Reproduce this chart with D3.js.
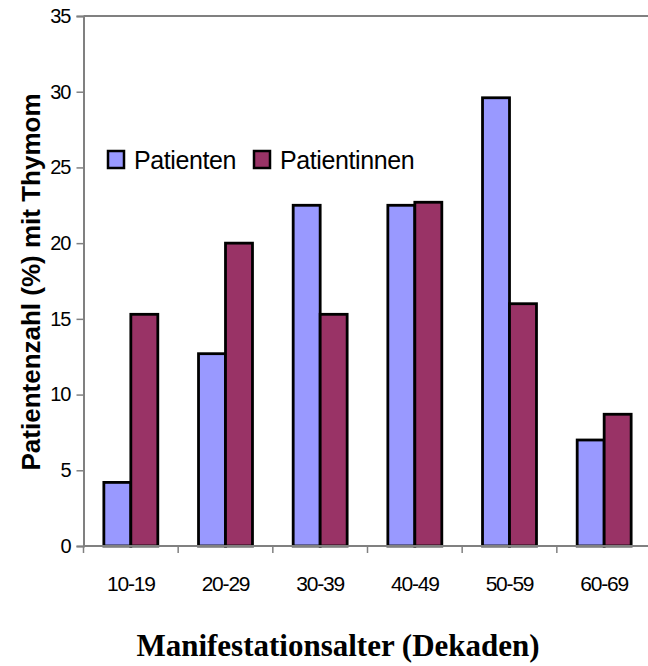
<!DOCTYPE html>
<html>
<head>
<meta charset="utf-8">
<script src="https://cdn.jsdelivr.net/npm/d3@7"></script>
<style>
  html, body { margin: 0; padding: 0; background: #fff; }
  svg { display: block; }
</style>
</head>
<body>
<svg id="chart" width="648" height="666"></svg>
<script>
// Age decades at first manifestation
const decades = ["10-19", "20-29", "30-39", "40-49", "50-59", "60-69"];
// Share (%) of patients with thymoma, by sex
const seriesNames = ["Patienten", "Patientinnen"];
const patienten = [4.2, 12.7, 22.5, 22.5, 29.6, 7.0];
const patientinnen = [15.3, 20.0, 15.3, 22.7, 16.0, 8.7];
const yTicks = [0, 5, 10, 15, 20, 25, 30, 35];
const colors = ["#9999FF", "#993366"];

const svg = d3.select("#chart");
const plot = { left: 83.5, right: 651.5, top: 16, bottom: 546 };

const x0 = d3.scaleBand()
  .domain(decades)
  .range([plot.left, plot.right])
  .paddingInner(0.43)
  .paddingOuter(0.215);
const x1 = d3.scaleBand()
  .domain(seriesNames)
  .range([0, x0.bandwidth()]);
const y = d3.scaleLinear().domain([0, 35]).range([plot.bottom, plot.top]);

const rows = decades.map((d, i) => ({ decade: d, values: [patienten[i], patientinnen[i]] }));

// Top frame line
svg.append("line")
  .attr("x1", plot.left).attr("x2", plot.right)
  .attr("y1", plot.top).attr("y2", plot.top)
  .attr("stroke", "#808080").attr("stroke-width", 2);

// Bars
const groups = svg.append("g").selectAll("g")
  .data(rows).join("g")
  .attr("transform", d => `translate(${x0(d.decade)},0)`);
groups.selectAll("rect")
  .data(d => d.values.map((v, j) => ({ key: seriesNames[j], value: v, j })))
  .join("rect")
  .attr("x", d => x1(d.key))
  .attr("width", x1.bandwidth())
  .attr("y", d => y(d.value))
  .attr("height", d => y(0) - y(d.value))
  .attr("fill", d => colors[d.j])
  .attr("stroke", "#000")
  .attr("stroke-width", 2.8);

// Y axis
const yAxis = d3.axisLeft(y).tickValues(yTicks).tickSize(7).tickPadding(6);
const gy = svg.append("g").attr("transform", `translate(${plot.left},0)`).call(yAxis);
gy.select(".domain").attr("stroke", "#808080").attr("stroke-width", 2);
gy.selectAll(".tick line").attr("stroke", "#808080").attr("stroke-width", 1.5);
gy.selectAll(".tick text")
  .attr("font-family", "Liberation Sans, Arial, sans-serif")
  .attr("font-size", 20).attr("fill", "#000")
  .attr("letter-spacing", -1);

// X axis: baseline with ticks at category boundaries
const step = x0.step();
const boundaries = d3.range(decades.length + 1).map(i => plot.left + i * step);
svg.append("line")
  .attr("x1", plot.left).attr("x2", plot.right)
  .attr("y1", plot.bottom).attr("y2", plot.bottom)
  .attr("stroke", "#808080").attr("stroke-width", 2);
svg.append("g").selectAll("line")
  .data(boundaries).join("line")
  .attr("x1", d => d).attr("x2", d => d)
  .attr("y1", plot.bottom).attr("y2", plot.bottom + 7)
  .attr("stroke", "#808080").attr("stroke-width", 1.5);
svg.append("g").selectAll("text")
  .data(decades).join("text")
  .attr("x", d => x0(d) + x0.bandwidth() / 2)
  .attr("y", 591)
  .attr("text-anchor", "middle")
  .attr("font-family", "Liberation Sans, Arial, sans-serif")
  .attr("font-size", 21).attr("letter-spacing", -1.2)
  .text(d => d);

// Axis titles
svg.append("text")
  .attr("transform", "translate(40,282) rotate(-90)")
  .attr("text-anchor", "middle")
  .attr("font-family", "Liberation Sans, Arial, sans-serif")
  .attr("font-weight", "bold").attr("font-size", 26)
  .text("Patientenzahl (%) mit Thymom");
svg.append("text")
  .attr("x", 338).attr("y", 656)
  .attr("text-anchor", "middle")
  .attr("font-family", "Liberation Serif, Times New Roman, serif")
  .attr("font-weight", "bold").attr("font-size", 31)
  .text("Manifestationsalter (Dekaden)");

// Legend
const legendItems = [
  { name: seriesNames[0], color: colors[0], x: 108 },
  { name: seriesNames[1], color: colors[1], x: 254 }
];
const lg = svg.append("g").selectAll("g").data(legendItems).join("g")
  .attr("transform", d => `translate(${d.x},151)`);
lg.append("rect")
  .attr("width", 16).attr("height", 17)
  .attr("fill", d => d.color)
  .attr("stroke", "#000").attr("stroke-width", 2.5);
lg.append("text")
  .attr("x", 26).attr("y", 18)
  .attr("font-family", "Liberation Sans, Arial, sans-serif")
  .attr("font-size", 25).attr("letter-spacing", -0.4)
  .text(d => d.name);
</script>
</body>
</html>
